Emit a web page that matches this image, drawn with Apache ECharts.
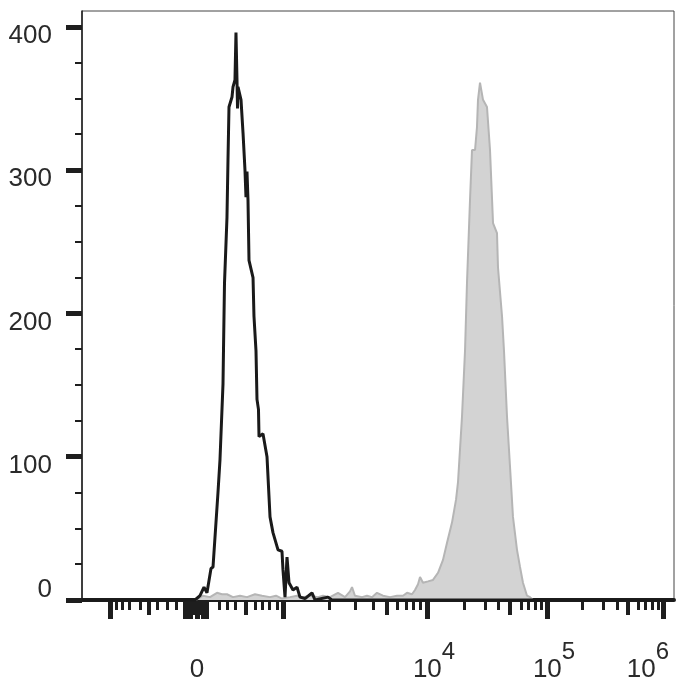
<!DOCTYPE html>
<html><head><meta charset="utf-8">
<script src="https://cdn.jsdelivr.net/npm/echarts@6/dist/echarts.min.js"></script>
<style>html,body{margin:0;padding:0;background:#fff}#c{width:700px;height:700px}</style>
</head><body><div id="c"></div>
<script>
// Histogram 1 (black outline, unstained control): display channel (0-1000) vs count
const isotypeChannel = [0, 190.9, 199.3, 206.1, 211.1, 217.9, 221.3, 229.7, 233.1, 238.2, 239.0, 240.7, 244.9, 246.6, 248.3, 253.4, 255.1, 258.4, 260.1, 261.8, 262.7, 263.5, 268.6, 272.0, 275.3, 277.0, 278.7, 280.4, 282.1, 288.9, 290.5, 293.9, 295.6, 298.1, 299.0, 305.7, 312.5, 317.6, 322.6, 331.1, 337.8, 339.5, 342.9, 346.3, 349.7, 356.4, 363.2, 368.2, 376.7, 388.5, 393.6, 415.5, 422.3, 1000];
const isotypeCount   = [0, 0, 3, 9, 5, 22, 23, 75, 98, 151, 174, 221, 267, 307, 344, 351, 358, 363, 396, 363, 343, 358, 349, 326, 300, 281, 299, 279, 237, 225, 198, 174, 140, 133, 114, 116, 100, 58, 47, 35, 34, 21, 2, 30, 12, 7, 9, 2, 1, 5, 0, 2, 0, 0];
// Histogram 2 (grey filled, stained sample)
const stainedChannel = [0, 192.6, 204.4, 216.2, 228.0, 236.5, 244.9, 255.1, 266.9, 278.7, 292.2, 304.1, 317.6, 327.7, 337.8, 351.4, 363.2, 373.3, 385.1, 398.6, 407.1, 418.9, 432.4, 444.3, 452.7, 456.1, 461.1, 473.0, 481.4, 489.9, 498.3, 508.4, 520.3, 532.1, 542.2, 549.0, 557.4, 562.5, 567.6, 571.0, 576.0, 584.5, 587.8, 592.9, 601.4, 609.8, 616.6, 625.0, 631.8, 635.1, 641.9, 647.0, 650.3, 655.4, 658.8, 663.9, 667.2, 668.9, 672.3, 677.4, 684.1, 689.2, 694.3, 701.0, 702.7, 709.5, 712.8, 717.9, 723.0, 728.0, 734.8, 739.9, 744.9, 751.7, 756.8, 761.8, 1000];
const stainedCount   = [0, 0, 3, 2, 5, 4, 4, 2, 3, 2, 4, 3, 2, 3, 1, 2, 3, 2, 3, 2, 3, 2, 5, 2, 6, 9, 3, 2, 3, 2, 5, 3, 2, 3, 3, 5, 4, 7, 11, 16, 12, 13, 12, 14, 19, 28, 40, 54, 70, 82, 128, 174, 221, 279, 314, 314, 330, 349, 361, 349, 344, 314, 263, 256, 232, 198, 174, 128, 93, 58, 35, 23, 12, 3, 2, 0, 0];

// Axis ticks (display channel units) and labels
const xMajorTicks  = [47.3, 174.8, 183.3, 194.3, 204.4, 210.3, 339.5, 582.8, 785.5, 981.4];
const xMediumTicks = [112.0, 179.1, 189.2, 199.3, 277.0, 515.2, 723.0, 922.3];
const xMinorTicks  = [57.4, 68.8, 79.9, 98.0, 127.2, 144.1, 160.0, 231.4, 244.9, 258.4, 292.2, 304.1, 315.9, 329.4, 417.2, 461.1, 491.6, 532.1, 547.3, 559.1, 571.0, 645.3, 680.7, 702.7, 741.6, 753.4, 765.2, 775.3, 844.6, 880.1, 903.7, 939.2, 951.0, 962.8, 973.0];
const xLabelChannels = [194.3, 582.8, 785.5, 981.4];
const xLabelBase     = ['0', '10', '10', '10'];
const xLabelExp      = ['', '4', '5', '6'];
const yMajorTicks = [0, 100, 200, 300, 400];
const yMinorTicks = [25, 50, 75, 125, 150, 175, 225, 250, 275, 325, 350, 375];

const zip = (a, b) => a.map((v, i) => [v, b[i]]);
const INK = '#1e1e1e';
const TXT = '#2a2a2a';
const XMIN = 0, XMAX = 1000, YMIN = 0, YMAX = 411;

function xLabel(v) {
  let idx = -1;
  xLabelChannels.forEach((c, i) => { if (Math.abs(c - v) < 0.05) idx = i; });
  if (idx < 0) return '';
  if (!xLabelExp[idx]) return '{z|' + xLabelBase[idx] + '}';
  if (idx === xLabelChannels.length - 1) return '{e|' + xLabelBase[idx] + '}{t|' + xLabelExp[idx] + '}';
  return '{b|' + xLabelBase[idx] + '}{s|' + xLabelExp[idx] + '}';
}
function yLabel(v) {
  return v === 0 ? '{lo|' + v + '}' : '{hi|' + v + '}';
}

const font = 'Liberation Sans';
const chart = echarts.init(document.getElementById('c'), null, {renderer: 'canvas'});
chart.setOption({
  animation: false,
  backgroundColor: '#fff',
  grid: {left: 82, right: 26, top: 11, bottom: 100, show: true, borderColor: '#444', borderWidth: 1, outerBoundsMode: 'none'},
  xAxis: [
    {type: 'value', position: 'bottom', min: XMIN, max: XMAX,
     axisLine: {show: true, onZero: false, lineStyle: {color: INK, width: 4}},
     axisTick: {show: true, customValues: xMajorTicks, length: 19, lineStyle: {color: INK, width: 5}},
     axisLabel: {show: true, customValues: xLabelChannels, margin: 40, formatter: xLabel, color: TXT, fontFamily: font,
       rich: {
         z: {fontSize: 26, fontFamily: font, color: TXT, padding: [17, 0, 0, 0]},
         b: {fontSize: 26, fontFamily: font, color: TXT, padding: [17, 0, 0, 14]},
         s: {fontSize: 24, fontFamily: font, color: TXT, verticalAlign: 'top'},
         e: {fontSize: 26, fontFamily: font, color: TXT, padding: [17, 0, 0, 0]},
         t: {fontSize: 24, fontFamily: font, color: TXT, verticalAlign: 'top', padding: [0, 30, 0, 0]}
       }},
     splitLine: {show: false}},
    {type: 'value', position: 'bottom', min: XMIN, max: XMAX,
     axisLine: {show: false, onZero: false},
     axisTick: {show: true, customValues: xMediumTicks, length: 15, lineStyle: {color: INK, width: 4}},
     axisLabel: {show: false}, splitLine: {show: false}},
    {type: 'value', position: 'bottom', min: XMIN, max: XMAX,
     axisLine: {show: false, onZero: false},
     axisTick: {show: true, customValues: xMinorTicks, length: 10, lineStyle: {color: INK, width: 3}},
     axisLabel: {show: false}, splitLine: {show: false}}
  ],
  yAxis: [
    {type: 'value', position: 'left', min: YMIN, max: YMAX,
     axisLine: {show: true, onZero: false, lineStyle: {color: INK, width: 1.5}},
     axisTick: {show: true, customValues: yMajorTicks, length: 16, lineStyle: {color: INK, width: 5}},
     axisLabel: {show: true, customValues: yMajorTicks, margin: 30, formatter: yLabel, color: TXT,
       rich: {
         hi: {fontSize: 26, fontFamily: font, color: TXT, padding: [18, 0, 0, 0]},
         lo: {fontSize: 26, fontFamily: font, color: TXT, padding: [0, 0, 20, 0]}
       }},
     splitLine: {show: false}},
    {type: 'value', position: 'left', min: YMIN, max: YMAX,
     axisLine: {show: false, onZero: false},
     axisTick: {show: true, customValues: yMinorTicks, length: 7, lineStyle: {color: INK, width: 2}},
     axisLabel: {show: false}, splitLine: {show: false}}
  ],
  series: [
    {name: 'Stained', type: 'line', xAxisIndex: 0, yAxisIndex: 0, data: zip(stainedChannel, stainedCount),
     symbol: 'none', z: 2, lineStyle: {color: '#b5b5b5', width: 2},
     areaStyle: {color: '#d3d3d3', opacity: 1}},
    {name: 'Control', type: 'line', xAxisIndex: 0, yAxisIndex: 0, data: zip(isotypeChannel, isotypeCount),
     symbol: 'none', z: 3, lineStyle: {color: '#1a1a1a', width: 3}}
  ]
});
</script>
</body></html>
